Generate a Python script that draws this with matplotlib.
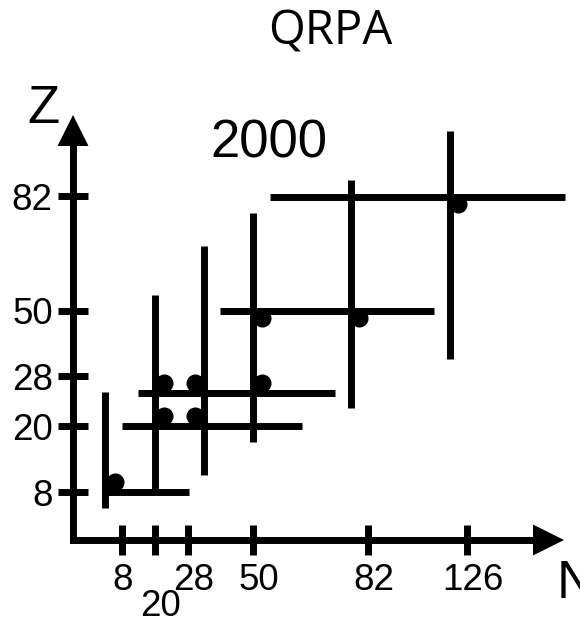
#!/usr/bin/env python3
"""QRPA schematic: magic-number ranges in the N-Z plane"""

import matplotlib
matplotlib.use('Agg')
import matplotlib.pyplot as plt
import numpy as np

"""## Data (schematic units, 1 unit = 1 px of the original)"""

N_tick_labels = ['8', '20', '28', '50', '82', '126']
N_tick_pos = [49, 82, 115, 180, 295, 394]
Z_tick_labels = ['8', '20', '28', '50', '82']
Z_tick_pos = [48, 114, 164, 229, 344]

# vertical bars: N magic number position and Z range
vert_x = [32, 82, 131, 180, 278, 377]
vert_ylo = [32, 48, 65, 98, 132, 181]
vert_yhi = [148, 245, 294, 327, 360, 409]

# horizontal bars: Z magic number position and N range
hor_y = [48, 114, 147, 229, 343]
hor_xlo = [32, 49, 65, 147, 197]
hor_xhi = [116, 229, 262, 361, 492]

# doubly magic nuclei
dot_x = [42, 91, 122, 91, 122, 189, 189, 286, 385]
dot_y = [58, 124, 124, 157, 157, 157, 222, 222, 336]

"""## Plot"""

W, H = 580, 622
fig = plt.figure(figsize=(W / 100, H / 100), dpi=100)
ax = fig.add_axes([73 / W, 82 / H, 507 / W, 540 / H])
ax.set_xlim(0, 507)
ax.set_ylim(0, 540)
for s in ax.spines.values():
  s.set_visible(False)

lw = 5.0

# axes with arrow heads
ax.plot([0, 0], [0, 396], color='k', lw=lw, solid_capstyle='projecting', clip_on=False)
ax.plot([0, 462], [0, 0], color='k', lw=lw, solid_capstyle='projecting', clip_on=False)
ax.fill([0, -15.5, 15.5], [425, 394, 394], color='k', clip_on=False, lw=0)
ax.fill([491, 460, 460], [0, 15.5, -15.5], color='k', clip_on=False, lw=0)

# ticks
ax.set_xticks(N_tick_pos)
ax.set_xticklabels([])
ax.set_yticks(Z_tick_pos)
ax.set_yticklabels(Z_tick_labels)
ax.tick_params(direction='inout', length=22.3, width=lw, color='k', pad=3.5)
ax.tick_params(axis='y', labelsize=26.5)
for lab in ax.get_yticklabels():
  lab.set_family('Liberation Sans')

# x tick labels, "20" is pushed down one row
for i, (pos, lab) in enumerate(zip(N_tick_pos, N_tick_labels)):
  yy = -49 if lab == '20' else -23
  dx = 1 if lab == '8' else 6
  ax.text(pos + dx, yy, lab, ha='center', va='top', fontsize=26.5,
          family='Liberation Sans', clip_on=False)

# bars
ax.vlines(vert_x, vert_ylo, vert_yhi, color='k', lw=lw)
ax.hlines(hor_y, hor_xlo, hor_xhi, color='k', lw=lw)
ax.plot(dot_x, dot_y, 'o', color='k', markersize=12, zorder=3)

# labels
ax.text(-30, 417, 'Z', ha='center', va='baseline', fontsize=38, family='Liberation Sans', clip_on=False)
ax.text(484, -58, 'N', ha='left', va='baseline', fontsize=38, family='Liberation Sans', clip_on=False)
ax.text(196, 383, '2000', ha='center', va='baseline', fontsize=38, family='Liberation Sans')

fig.text(330 / W, 1 - 45 / H, 'QRPA', ha='center', va='baseline', fontsize=34, family='Open Sans')

plt.savefig('out.png', dpi=100)
